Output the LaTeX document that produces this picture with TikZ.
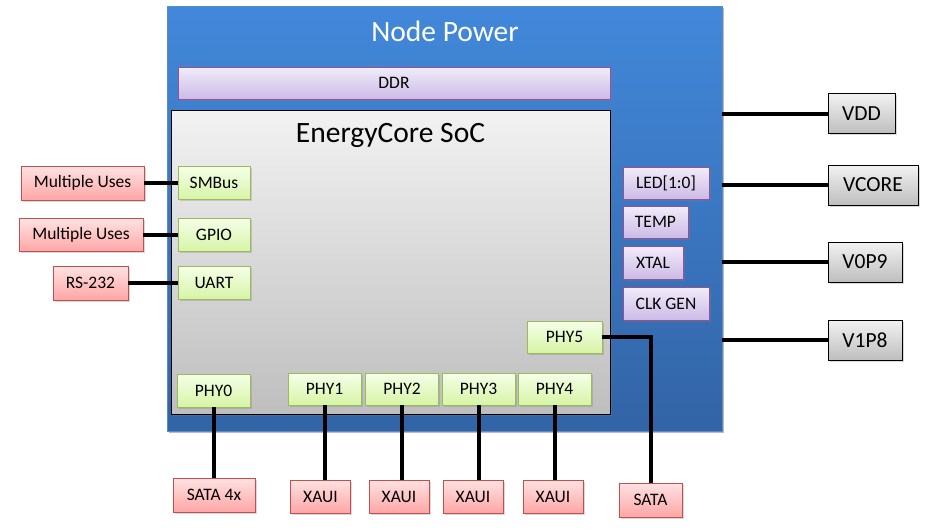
\documentclass[tikz,border=0pt]{standalone}
\usepackage{fontspec}
\setmainfont{Carlito}
\usetikzlibrary{shadows}

\definecolor{powerTop}{RGB}{66,136,218}
\definecolor{powerBot}{RGB}{50,100,166}
\definecolor{powerEdge}{RGB}{90,140,205}
\definecolor{lilacTop}{RGB}{242,236,250}
\definecolor{lilacBot}{RGB}{204,186,230}
\definecolor{lilacEdge}{RGB}{150,80,150}
\definecolor{limeTop}{RGB}{245,255,232}
\definecolor{limeBot}{RGB}{214,244,166}
\definecolor{limeEdge}{RGB}{155,187,89}
\definecolor{roseTop}{RGB}{255,226,226}
\definecolor{roseBot}{RGB}{255,166,166}
\definecolor{roseEdge}{RGB}{192,80,77}
\definecolor{greyTop}{RGB}{242,242,242}
\definecolor{greyBot}{RGB}{190,190,190}

\begin{document}
\begin{tikzpicture}[x=1pt,y=-1pt,
  box/.style={rectangle,inner sep=0pt,font=\fontsize{17.5}{20}\selectfont,
    drop shadow={shadow xshift=1.5pt,shadow yshift=-1.5pt,opacity=0.3}},
  lilacbox/.style={box,draw=lilacEdge,top color=lilacTop,bottom color=lilacBot},
  limebox/.style={box,draw=limeEdge,top color=limeTop,bottom color=limeBot},
  rosebox/.style={box,draw=roseEdge,top color=roseTop,bottom color=roseBot},
  railbox/.style={box,draw=black,top color=greyTop,bottom color=greyBot,
    font=\fontsize{21.5}{24}\selectfont,minimum height=40pt},
  wire/.style={line width=4pt}]
\useasboundingbox (0,0) rectangle (938,530);

% Node power and SoC
  \node[box,draw=powerEdge,top color=powerTop,bottom color=powerBot,
    minimum width=555pt,minimum height=425pt,
    drop shadow={shadow xshift=2pt,shadow yshift=-2pt,opacity=0.35}] (power) at (444.5,218.5) {};
  \node[text=white,font=\fontsize{29.5}{32}\selectfont] (powertitle) at (445,31) {Node Power};
  \node[lilacbox,minimum width=432pt,minimum height=32pt] (ddr) at (394,83) {DDR};
  \node[box,draw=black,top color=greyTop,bottom color=greyBot,
    minimum width=439pt,minimum height=304pt] (soc) at (390.5,262) {};
  \node[font=\fontsize{29.5}{32}\selectfont] (soctitle) at (390.5,135) {EnergyCore SoC};

% Left side
  \foreach \n/\y/\t in {smbus/183/SMBus, gpio/235/GPIO, uart/283/UART} {
    \node[limebox,minimum width=72pt,minimum height=33pt] (\n) at (214,\y) {\t};
  }
  \node[rosebox,minimum width=123pt,minimum height=34pt] (usesA) at (82.5,183) {Multiple Uses};
  \node[rosebox,minimum width=124pt,minimum height=33pt] (usesB) at (81,235) {Multiple Uses};
  \node[rosebox,minimum width=75pt,minimum height=34pt] (rs) at (90.5,283) {RS-232};

% Right side
  \node[lilacbox,minimum width=86pt,minimum height=32pt] (led) at (666,183) {LED[1:0]};
  \node[lilacbox,minimum width=65pt,minimum height=32pt] (temp) at (655.5,222) {TEMP};
  \node[lilacbox,minimum width=60pt,minimum height=33pt] (xtal) at (653,262.5) {XTAL};
  \node[lilacbox,minimum width=86pt,minimum height=33pt] (clk) at (666,303.5) {CLK GEN};
  \node[railbox,minimum width=67pt] (vdd) at (861.5,113.5) {VDD};
  \node[railbox,minimum width=90pt] (vcore) at (873,185) {VCORE};
  \node[railbox,minimum width=74pt] (vzero) at (865,262) {V0P9};
  \node[railbox,minimum width=74pt] (vone) at (865,340) {V1P8};

% Bottom side
  \node[limebox,minimum width=73pt,minimum height=33pt] (phy0) at (213.5,390.5) {PHY0};
  \node[limebox,minimum width=75pt,minimum height=32pt] (phy5) at (564.5,337) {PHY5};
  \node[rosebox,minimum width=82pt,minimum height=34pt] (sata4x) at (214,495) {SATA 4x};
  \node[rosebox,minimum width=63pt,minimum height=34pt] (sata) at (650.5,500) {SATA};
  \foreach \n/\x/\u in {1/324.5/320.5, 2/402/399, 3/478.5/473, 4/554.5/553} {
    \node[limebox,minimum width=73pt,minimum height=32pt] (phy\n) at (\x,389) {PHY\n};
    \node[rosebox,minimum width=60pt,minimum height=33pt] (xaui\n) at (\u,496.5) {XAUI};
  }

% Draw wires
  \draw[wire] (usesA.east) -- (smbus.west);
  \draw[wire] (usesB.east) -- (gpio.west);
  \draw[wire] (rs.east) -- (uart.west);
  \foreach \n in {vdd,vcore,vzero,vone} {
    \draw[wire] (\n.west -| power.east) -- (\n.west);
  }
  \draw[wire] (phy0.south) -- (phy0.south |- sata4x.north);
  \foreach \n in {1,2,3,4} {
    \draw[wire] (phy\n.south) -- (phy\n.south |- xaui\n.north);
  }
  \draw[wire] (phy5.east) -| (sata.north);

\end{tikzpicture}
\end{document}
